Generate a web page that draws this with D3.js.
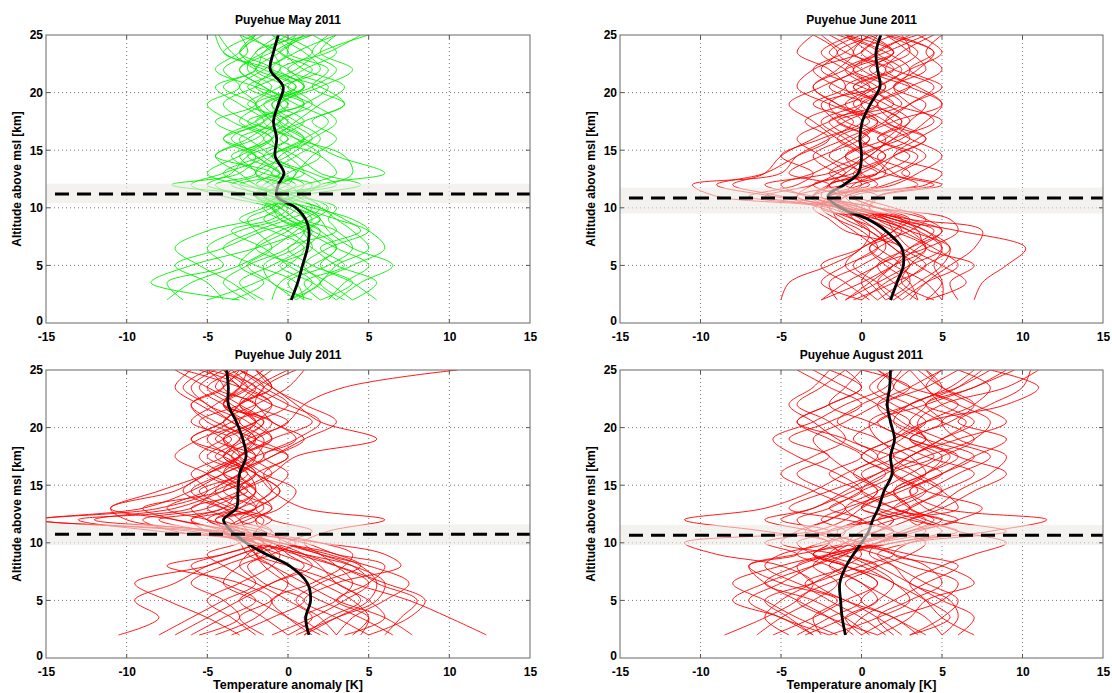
<!doctype html>
<html>
<head>
<meta charset="utf-8">
<script src="https://d3js.org/d3.v7.min.js"></script>
<style>
	body { margin: 0; background: #fff; }
	text { font-family: "Liberation Sans", Arial, sans-serif; font-weight: bold; fill: #000; }
</style>
</head>
<body>
<div id="chart"></div>
<script>
// altitude levels (km) at which every profile is sampled
const ALT = [2, 3.5, 5, 6.5, 8, 9, 10, 11, 12, 13, 14.5, 16, 17.5, 19, 20.5, 22, 23.5, 25];

const TICKS_X = [-15, -10, -5, 0, 5, 10, 15];
const TICKS_Y = [0, 5, 10, 15, 20, 25];
const TITLES = ["Puyehue May 2011", "Puyehue June 2011", "Puyehue July 2011", "Puyehue August 2011"];
const COLORS = ["#00ee00", "#ff0000", "#ff0000", "#ff0000"];

// tropopause height and its spread (km)
const TROPO = [11.2, 10.85, 10.75, 10.65];
const BAND_LO = [10.4, 9.5, 9.8, 9.8];
const BAND_HI = [12.1, 11.75, 11.6, 11.55];

// mean anomaly profiles (K)
const MEAN_MAY = [0.2, 0.6, 0.9, 1.2, 1.3, 1.1, 0.5, -0.7, -0.6, -0.25, -0.8, -0.7, -0.9, -0.6, -0.3, -1.1, -0.9, -0.6];
const MEAN_JUN = [1.8, 2.2, 2.6, 2.5, 1.5, 0.4, -1.3, -2.1, -1.1, -0.2, 0.0, -0.1, 0.05, 0.55, 1.15, 1.0, 0.9, 1.2];
const MEAN_JUL = [1.3, 1.1, 1.4, 1.2, 0.1, -1.35, -2.6, -3.5, -4.0, -3.2, -3.1, -3.0, -2.6, -2.8, -3.2, -3.7, -3.7, -3.8];
const MEAN_AUG = [-1.0, -1.2, -1.3, -1.35, -0.95, -0.5, 0.0, 0.45, 0.7, 1.05, 1.4, 1.9, 1.8, 2.05, 1.8, 1.6, 1.75, 1.8];

// single sounding anomaly profiles (K)
const PROF_MAY = [
	[-7.5, -6, -3, -1, 0.5, 1.5, 0.5, -2, -1.5, -0.5, -2.5, -1, -3, -1.5, 0.5, -2, -3.5, -4.3],
	[-3, -8.5, -6, -2, 1, 2, 1, -0.5, 0.5, -1, 0.5, 2, 0.5, -1, 1.5, 3, 1.5, 2.5],
	[3, 4.5, 6.5, 4, 2.5, 2, 0.5, -1.5, 2, 1, -1.5, 0, -2.5, -4, -2, 0.5, 2, 5],
	[1, 0.5, -2, -4, -2, 0, 1.5, 0.5, -3, -5, -3, -1, 0.5, 2, 3.5, 1, -0.5, -3],
	[0.5, 2, 3, 5, 4, 3, 2, -1, -7.2, -3, -2, -3.5, -1.5, 0, -2, -1, -3, -1.5],
	[4, 5.5, 3, 1.5, 0, -1.5, -0.5, 1, 2, 6, 3, 1, -0.5, 1.5, 0, -2, -0.5, 1],
	[-2, -3.5, -5.5, -7, -5, -2, -0.5, -1.5, -0.5, 0.5, -1, -2.5, -4.5, -2, -3, -1.5, 0, -1],
	[2, 1, 3.5, 2, 4.5, 3.5, 2, 0, -1, -2, 0, 1.5, 3, 1.5, -0.5, 1, 3, 1.5],
	[-5, -2, 0, 1, -1, -3, -1.5, 0.5, 4.5, 2, 0.5, -1.5, 0, -2.5, -1, -2.5, -2, -0.5],
	[0, 1.5, 0, -1.5, -3.5, -1, 0, -0.5, -2, -1, -4.5, -2.5, -1, -0.5, 1, -1, -4, -2],
	[2.5, 3.5, 5, 3, 1, -0.5, -1, -2, 0, 0.5, 1.5, 3, 1.5, 3.5, 1.5, 2.5, 0, 0.5],
	[-1, -0.5, 1.5, 3, 2, 0.5, -0.5, -3, -4.5, -2, -3, -1.5, -3.5, -5, -3, -4, -2.5, -3],
	[4, 2.5, 1, 2.5, 5, 4, 1.5, -1, 1, 3, 2, -0.5, 1, -0.5, 2, 4, 2, 3],
	[-6.5, -7.5, -4, -5, -3, -0.5, 0.5, -1, -3.5, -1.5, -0.5, 1, -1, -2, -4, -2, -1.5, 0],
	[1.5, -1, -1.5, 0.5, 1.5, 0, -1, -4, -6, -4, -1.5, -4, -2, -0.5, -2.5, -0.5, -1, -2.5],
	[3.5, 2, 4, 6, 5, 3, 1, 0, 2.5, 4, 3.5, 0.5, -1.5, 1, 2.5, 0, 1.5, -0.5],
	[-3.5, -1.5, -3, -2, 0, 1, 2, 1, 0, -2, -1, 1, 2.5, 0.5, -1.5, -3, -1, 1],
	[0.5, -1, -2.5, -1, -2, -2.5, -1, 0, 1, -0.5, -2, -4, -1.5, -3, -4.5, -2, -3, -2],
	[2, 4, 1.5, 0, 3, 2.5, 3, 0.5, -2, -3, -4.5, -2, -0.5, 1, 0, 1.5, -0.5, 1.5],
	[-1.5, -3, -1, 1, 2, 0.5, -0.5, -2, -1, 1, 0, -1, 1, 3.5, 2, -1, 0.5, 3],
	[5.5, 4, 2, 3, 1.5, -0.5, -1.5, -0.5, 3, 1.5, -1, 1, -0.5, -2, 0.5, -1.5, -4, -4.5],
	[-4, -5, -7, -4, -1.5, 1, 0, -2, -5, -3.5, -2.5, 0, -2, 0, -1.5, -3, -1.5, 0.5],
	[0, 2, 0.5, -2, -0.5, 1.5, 2.5, 1, -1, 0, 2, 0.5, -1, -2, -0.5, 2, 1, -1],
	[1, 0, 2.5, 4, 3, 1, 0.5, -1.5, -3, -0.5, -2, -3, -0.5, -1.5, 1, 0, -2, 1.5],
	[-2.5, -4, -2.5, 0, 1, 0, -1, 0.5, 1.5, -1.5, -3.5, -1, -2.5, 1, -2, -4.5, -3, -2],
	[3, 1.5, -0.5, 1.5, 1, 2, 1, -0.5, -2.5, -4, -1.5, 1.5, 0, -1, 1, -0.5, 2.5, 4.5]
];

const PROF_JUN = [
	[-5, -4.5, -2, 0, 0.5, -0.5, -2, -9, -10.5, -5, -4, -2, -0.5, -3, -1, -2, -4, -3],
	[-2.5, 0, 2, 4, 3, 1, -1, -3, -2, 0, 2, 4, 1.5, 3, 5, 3, 4.5, 2],
	[2, 3.5, 5, 5.5, 4, 2, 0, -2, 0, 1.5, 0.5, -1, -2.5, 0, 1.5, -0.5, 1, 3],
	[4, 5, 4.5, 5, 3.5, 1.5, -1.5, -4, -1, 2, 3.5, 1, 3, 1.5, -0.5, 2, 0.5, -1],
	[7, 7.5, 9, 10.2, 6, 2, 0, -2.5, -2, -1, 0.5, 2, 4.5, 3, 2, 4, 3, 1.5],
	[0, 1.5, 3, 2, 0.5, -1, -2, -1, 1.5, 3, 0.5, -1.5, -3, -4.5, -2.5, -0.5, -2, 0],
	[3.5, 2, 1, 3, 5, 3, 1, -0.5, 4, 5, 2, 3.5, 5, 2, 0.5, -1, 1.5, 4],
	[-1.5, -2, 0, 1.5, 1, -0.5, -2.5, -5, -8, -6, -5, -3, -1, 1, -1.5, -3, -1, 0.5],
	[5, 4, 2, 0.5, 2, 3, 1, -1, -3, -0.5, 1.5, 0, 2, 5, 3.5, 1, 3, 2.5],
	[1, 2.5, 4, 5.5, 3, 1, -2.5, -2, 0.5, -1.5, -3, -1, 1, -0.5, 1, 3, 5, 3.5],
	[2.5, 1, -0.5, 1, 2.5, 1.5, -1, -7, -4, -3, -5, -2.5, 0, -1.5, -3, -1.5, -0.5, -2],
	[6, 5.5, 7, 4, 3.5, 2.5, 0, 1, 5, 2.5, 4, 2, 0, 2.5, 1, -0.5, 2, 0.5],
	[-2.5, -1, 1, 2.5, -1, -2, -3, -1.5, -2, 1, -1, 1.5, 2.5, 0.5, -2, 0, 2, -1],
	[1.5, 3, 2.5, 1, -0.5, -1.5, -2, -3.5, -5, -3, -1, 0.5, -1.5, -2.5, 1, 2.5, 1, 3.5],
	[3, 4, 5.5, 7, 7.5, 3, 0, -1, -0.5, 1, 2, 4, 2, 1, 3, 5, 4, 5],
	[-1, 0.5, 2, 3.5, 5, 4, 1, -3, -6, -2, 0.5, 1.5, -1, -2, 0, 1.5, -1, -2.5],
	[4.5, 2.5, 3, 4, 2, 0.5, -1.5, -1, 2, 3.5, 5, 3, 1, -1, 0.5, -1, -2.5, -0.5],
	[0.5, -1, -2.5, 0, 1.5, 0.5, -1, -5.5, -9, -6, -4, -2, -3.5, -1, 1.5, 0, -1.5, 1],
	[2, 1, 2, 3, 4.5, 2.5, 0.5, 1, -1, 0, -2, -0.5, 1.5, 3, 4.5, 2, 0, 2],
	[5, 5, 3.5, 2, 0.5, -0.5, -1, -3, -1, -2, 0, 2, 3, 4, 2, 3.5, 4.5, 1.5],
	[-0.5, 2, 4, 2.5, 1, 0, -1.5, -4, -3, -1, -2.5, -4, -2, 0, -1, 1, -0.5, 0.5],
	[3.5, 3, 1.5, 0.5, 3, 4, 2, -0.5, -2, 1, 3, 1, 2.5, 1, 3, 1.5, 2.5, 4.5],
	[1, 0, 1, 4, 6, 5.5, 1, -2, 1, 0, -1, 0.5, -1.5, 2, 0, -2.5, -1.5, -3],
	[-1, 1, 3, 5, 4, 2, -1, -6, -3, -1.5, 0, -1.5, 0.5, -2, -4, -3, 0, 1],
	[4, 6.5, 5, 3, 2, 1.5, -0.5, -2, 3.5, 2, 1, 3, 1.5, 0, 2, 3, 1.5, -1],
	[0, -2.5, -1, 1, 0, -1.5, -2.5, -1.5, 0, -0.5, 1.5, -0.5, -2, 1, -0.5, 2, 3.5, 1.5],
	[2.5, 4, 6, 4.5, 2.5, 1, 0.5, 1, 4.5, 1.5, 0, 2.5, 4, 5, 3, 0.5, 2, 0],
	[1.5, 0.5, -1, 0, 2, 2.5, -0.5, -3, -2, -4.5, -2.5, 0, 1, -1.5, -3, -1, 1, -1.5]
];

const PROF_JUL = [
	[-10.5, -8, -9.5, -7, -5, -3, -1, -5, -15.5, -9, -6, -4, -2, -4.5, -3, -5, -6, -4.5],
	[-6, -4, -2, -4, -6, -4, -2, -7, -9, -5, -3, -5, -7, -5.5, -3, -4, -2.5, -4],
	[5, 7.5, 8.5, 6, 3, 0.5, -2, -4, -3, -1.5, -2.5, -4, -3, -1, -2, -3.5, -5, -3],
	[12.3, 10, 7.5, 4, 1.5, -0.5, -2.5, -5, -6, -4, -2, -3, -1.5, -2.5, -4, -2, 0, 1],
	[1, 3, 5, 5.5, 4.5, 2.5, -0.5, -3, -4, -2, -0.5, -2, -3.5, -2, 0, 1, 3.5, 10.5],
	[-3, -5, -7.5, -9.5, -5, -3, -1.5, -3.5, -7, -11, -8, -5, -3, -4, -5.5, -3, -1.5, -3],
	[4, 5, 4, 2, 0, -1, -2, -4.5, -12, -7, -4, -2, -3, -1, -2.5, -4, -3, -1.5],
	[7.7, 6, 3, 1, -1, -2.5, -3, -4, -2.5, -1, -3, -2, 0, -2, -4.5, -6, -4, -5],
	[-1, 1.5, 3.5, 5, 3, 1, -1.5, -2, -1, -3, -4.5, -3, -1, 1, -1, -2, -4, -2.5],
	[2, 0, -2, -4, -3, -1.5, -2, -3, -3.5, -5, -3, -1, -2.5, -4, -2, 0, -1.5, -3],
	[0.5, 3, 5.5, 6, 4, 1, -2, -6, -15.5, -8, -5, -6, -4, -3, -1.5, -3, -5, -7],
	[3, 2, 0.5, 2, 4.5, 3, -0.5, -3.5, -5, -6, -2.5, -4, -2, 0.5, -1, -3, -2, 0],
	[-4.5, -2, -1, -3, -7.5, -4, -2, -4, -2, -3.5, -5.5, -3, -5, -3.5, -6, -4.5, -3, -5.5],
	[6, 7, 8, 5.5, 4, 2, 0, 1.5, -1, -2, -1, 0, -1.5, 0.5, 2, 0, -2, -3.5],
	[-7, -5, -3, -1, 1, 0, -1, -8, -13, -6, -4.5, -2.5, -4, -2, -3.5, -5, -6.5, -5],
	[1.5, 0, -1, 1.5, 3.5, 4, 2, -2, -4.5, -3, -1, -1.5, 0, -2.5, -1.5, -4, -2.5, -1],
	[-2, -3.5, -5, -3, -1, -0.5, -1.5, -2.5, -3, -4, -6, -4, -2, -1.5, -3, -2, -4.5, -3.5],
	[4.5, 5, 3, 5, 6, 3, 1, -3, -7, -9, -4, -2, -3.5, -5, -3.5, -1, -3, -6.5],
	[-5.5, -3, -4, -6, -4, -2, -0.5, -1, -3, -2, -0.5, -2, -4, -6, -4, -3, -1, -2],
	[3, 4, 6, 7.5, 5, 2, 0, -1.5, -4, -2, -3, -5, -3, -1, 1.5, -1, -3, -4],
	[-3.5, -1, 1, -1.5, -2.5, -1, 0.5, -1.5, -2, -1, -2, -3, -1, 1, 3, 1, -1, -2],
	[6.5, 4.5, 2, 0, -1.5, -2, -2.5, -4, -6, -3, -2, -2.5, -4.5, -3, -5, -6, -4, -3],
	[0, -1.5, -3, -1, 1.5, 0.5, -1, -2.5, -5, -7.5, -5, -3, -2, -3, -2, -4, -5.5, -4],
	[2.5, 1, 3, 4, 3, 2, 1, 2.5, 6, 1, -1, -2, -4, -2.5, 0, -2, -1.5, 0.5],
	[-1.5, -3, -1, 0, -1, -2, -1, -3.5, -4.5, -2, -4, -3, -3.5, -6, -4, -3, -2, -5],
	[5, 3, 1, 3, 7, 6, 2, -4, -10, -11, -7, -5, -3, -2, -1, -4, -3, -2.5],
	[1, 2.5, 4.5, 3, 0, -2, -2.5, -1, -2, -0.5, 0.5, -1.5, -3, -4, -2, -1, -2.5, -4],
	[-8, -6, -4, -2, -3, -2.5, -1.5, -3, -5, -3.5, -2, -4, -5.5, -4, -2, -3, -1, -2],
	[3.5, 6, 5, 3, 2, 1, -1, -5, -8, -4, -3, -1, 0.5, 5.5, 2, 0.5, -1, -3],
	[0, 1.5, 0, -2, -4, -5, -3, -2, -1.5, -4, -6.5, -5, -3, -2, -3.5, -5.5, -7, -6]
];

const PROF_AUG = [
	[-8.5, -6, -4, -3, -5, -9, -11, -3, -1, 0, 2, 4, 3, 1, 0.5, 3, 5, 4],
	[-2, -5, -7, -5, -3, -1.5, 1, 3, 5, 2, 4, 6, 8, 5, 3, 4, 2, 3],
	[0.5, -1, -3, -6, -4, -2, -0.5, 2, -1, -4.5, -2, 1, 3, 5, 6.5, 4, 7, 9],
	[3, 5, 6, 4, 2, 0.5, 1, 3, 4.5, 3, 5, 3.5, 2, 4, 2, 1, 3, 5],
	[-5.5, -3, -1, 1, -1, -3, -2, -6, -11, -6, -3, -1, 1, -1, -4, -2, 0, -1],
	[1, 3, 4, 7, 5, 2, 3, 8, 11.5, 5, 3, 5, 7, 9, 6, 8, 10, 10.5],
	[-3, -4.5, -6, -3, 0, 2, -1, -3, -4, -2, 0, 2, 0.5, -1.5, -3, -4.5, -3, -2],
	[5, 4, 2, 0, -2, -4, -2.5, 1, 3, 5, 7, 9, 6, 4, 3.5, 5, 9, 11],
	[-1, 0, 2, 4, 6, 3, 0, -2, 1, 3, 1.5, -0.5, -2, -3, -1, 1, 3, 0],
	[2.5, 1, -1, -4, -6, -5, -2, -1, -2.5, -1, 2, 4, 5, 3, 5.5, 7, 5, 3.5],
	[-4, -2, 0, -1, 1, -1.5, -5, -4, -2, -0.5, 1, 0, 2, 1, -1.5, 0, 2, 1],
	[7, 5, 4, 3, 5, 7, 9, 6, 4, 2, 0, 1.5, 4, 7, 8, 6, 4, 5],
	[-2.5, -3, -1.5, -5, -7, -4, 0, 3, 6, 4, 3, 5, 2, -0.5, 1, 3, 5.5, 7],
	[0, 2, 5, 6, 3, 1, -1, -1.5, 0, 2, 4, 2, 4.5, 3, 5, 4, 6, 7.5],
	[-6.5, -5, -3, -1.5, -3, -2, 2, 5, 3.5, 1, -2, -4, -2, -4.5, -2, 0, -2, -4],
	[4, 2, 0, 1, -1, -3, -1, 1, 2, 0, 2.5, 5, 7, 4, 2, 3, 6, 8],
	[-1.5, -4, -6, -8, -5, -2, 1, 4, 3, 6, 5, 3, 1, 2.5, 4, 6, 3, 1],
	[1.5, 0, -2, -3.5, -1, -3, -4, -2, -5, -3, -0.5, 1.5, 0, 2, 4, 2, 0.5, 2],
	[3, 5.5, 4, 2, 0, -2, -1, 0, 2, 4.5, 6, 8, 9, 6, 5, 7, 8, 6],
	[-3.5, -1, 1, 2, 0.5, -1, -2, -1, 0, -2, 0, -1.5, -4, -5.5, -3, -1, 1.5, 2.5],
	[6, 7, 5, 3, 1, -0.5, 2, 6, 3, 1, 3.5, 2, 0, 2, 4, 9, 11, 8],
	[-0.5, -2, -4, -6, -7, -4, -6, -2, 1, 3, 2, 4, 5.5, 3, 0.5, -2, -1, 0],
	[2, 1, 3, 5, 4, 2, 0, -3, -6, -3, -1, 1, 3, 5, 7, 5, 4, 3],
	[-4.5, -6, -5, -3, -1, 0, -0.5, 1, 2, 0, 1, -0.5, 1.5, 4, 2.5, 1, -1, -3],
	[0, -1, 1, 0, -2, -1, 0, 2, 1, 3, 5, 7, 4, 2, 3, 1.5, 4, 6],
	[3.5, 2, -1, -3, -4, -1.5, 1, 3.5, 6, 7.5, 4, 2, 3, 6, 9, 7, 5, 4],
	[-2, 1, 3, 2, -1, -3, -2, -3.5, -2, -1, -3, -5, -3, -1, -2, -4, -2.5, -1],
	[1, -2, -4, -2, 1, 3, 4, 2, 0, -1, 1, 3, 5, 7, 5, 3, 1, 2],
	[-3, -5, -8, -6, -3, -1, 1, 2.5, 4, 2, 0, -2, 0, -2, -4, -2, 0, -2],
	[5, 6, 5.5, 3, 2, 1, 3, 9, 5, 3, 2, 4, 6, 3, 1, 4, 7, 9.5]
];

const MEANS = [MEAN_MAY, MEAN_JUN, MEAN_JUL, MEAN_AUG];
const PROFILES = [PROF_MAY, PROF_JUN, PROF_JUL, PROF_AUG];

(function () {
	"use strict";

	const W = 1112, H = 693;
	// plot boxes of the four panels
	const boxes = [
		{ x0: 46, x1: 530, y0: 35, y1: 323 },
		{ x0: 620, x1: 1103, y0: 35, y1: 323 },
		{ x0: 46, x1: 530, y0: 370, y1: 658 },
		{ x0: 620, x1: 1103, y0: 370, y1: 658 }
	];

	const svg = d3.select("#chart").append("svg")
		.attr("width", W)
		.attr("height", H);

	boxes.forEach(function (b, i) {
		const x = d3.scaleLinear().domain([-15, 15]).range([b.x0, b.x1]);
		const y = d3.scaleLinear().domain([0, 25]).range([b.y1, b.y0]);
		const w = b.x1 - b.x0, h = b.y1 - b.y0;

		const g = svg.append("g");

		svg.append("clipPath").attr("id", "clip" + i)
			.append("rect").attr("x", b.x0).attr("y", b.y0).attr("width", w).attr("height", h);

		// dotted grid
		g.append("g").selectAll("line").data(TICKS_X.slice(1, -1)).join("line")
			.attr("x1", d => x(d)).attr("x2", d => x(d))
			.attr("y1", b.y0).attr("y2", b.y1)
			.attr("stroke", "#777").attr("stroke-width", 1).attr("stroke-dasharray", "1,3");
		g.append("g").selectAll("line").data(TICKS_Y.slice(1, -1)).join("line")
			.attr("x1", b.x0).attr("x2", b.x1)
			.attr("y1", d => y(d)).attr("y2", d => y(d))
			.attr("stroke", "#777").attr("stroke-width", 1).attr("stroke-dasharray", "1,3");

		const line = d3.line()
			.x(d => x(d[0]))
			.y(d => y(d[1]))
			.curve(d3.curveCatmullRom.alpha(0.5));

		const plot = g.append("g").attr("clip-path", "url(#clip" + i + ")");

		// single soundings
		plot.selectAll("path.prof").data(PROFILES[i]).join("path")
			.attr("class", "prof")
			.attr("d", p => line(p.map((v, k) => [v, ALT[k]])))
			.attr("fill", "none")
			.attr("stroke", COLORS[i])
			.attr("stroke-width", 0.9);

		// mean profile
		plot.append("path")
			.attr("d", line(MEANS[i].map((v, k) => [v, ALT[k]])))
			.attr("fill", "none")
			.attr("stroke", "#000")
			.attr("stroke-width", 2.8);

		// tropopause spread (semi transparent, on top like the original)
		plot.append("rect")
			.attr("x", b.x0).attr("width", w)
			.attr("y", y(BAND_HI[i])).attr("height", y(BAND_LO[i]) - y(BAND_HI[i]))
			.attr("fill", "#ebeae4").attr("opacity", 0.6);

		// mean tropopause
		plot.append("line")
			.attr("x1", b.x0 + 9).attr("x2", b.x1)
			.attr("y1", y(TROPO[i])).attr("y2", y(TROPO[i]))
			.attr("stroke", "#000").attr("stroke-width", 3)
			.attr("stroke-dasharray", "14,8");

		// small inner tick marks on all sides
		const tk = 4;
		TICKS_X.slice(1, -1).forEach(function (t) {
			g.append("line").attr("x1", x(t)).attr("x2", x(t)).attr("y1", b.y1).attr("y2", b.y1 - tk).attr("stroke", "#555");
			g.append("line").attr("x1", x(t)).attr("x2", x(t)).attr("y1", b.y0).attr("y2", b.y0 + tk).attr("stroke", "#555");
		});
		TICKS_Y.slice(1, -1).forEach(function (t) {
			g.append("line").attr("x1", b.x0).attr("x2", b.x0 + tk).attr("y1", y(t)).attr("y2", y(t)).attr("stroke", "#555");
			g.append("line").attr("x1", b.x1).attr("x2", b.x1 - tk).attr("y1", y(t)).attr("y2", y(t)).attr("stroke", "#555");
		});

		// box
		g.append("rect")
			.attr("x", b.x0).attr("y", b.y0).attr("width", w).attr("height", h)
			.attr("fill", "none").attr("stroke", "#666").attr("stroke-width", 1);

		// axes labels (plain hyphen minus like the original)
		const ax = g.append("g").attr("transform", "translate(0," + b.y1 + ")")
			.call(d3.axisBottom(x).tickValues(TICKS_X).tickFormat(d => String(d)).tickSize(0).tickPadding(9));
		const ay = g.append("g").attr("transform", "translate(" + b.x0 + ",0)")
			.call(d3.axisLeft(y).tickValues(TICKS_Y).tickFormat(d => String(d)).tickSize(0).tickPadding(3));
		[ax, ay].forEach(function (a) {
			a.select(".domain").remove();
			a.selectAll("text")
				.style("font-size", "12px")
				.style("font-family", "'Liberation Sans', Arial, sans-serif")
				.style("font-weight", "bold")
				.style("fill", "#000");
		});
		// lift the y "0" a touch so it clears the x "-15" below it
		ay.selectAll("text").filter(d => d === 0).attr("dy", "0.1em");

		// title
		g.append("text")
			.attr("x", (b.x0 + b.x1) / 2).attr("y", b.y0 - 11)
			.attr("text-anchor", "middle").style("font-size", "12px")
			.text(TITLES[i]);

		// y label
		g.append("text")
			.attr("transform", "translate(" + (b.x0 - 29) + "," + ((b.y0 + b.y1) / 2) + ") rotate(-90)")
			.attr("text-anchor", "middle").attr("dy", "0.35em").style("font-size", "12px")
			.text("Altitude above msl [km]");

		// x label on the lower row only
		if (i >= 2) {
			g.append("text")
				.attr("x", (b.x0 + b.x1) / 2).attr("y", 689)
				.attr("text-anchor", "middle").style("font-size", "12.5px")
				.text("Temperature anomaly [K]");
		}
	});
})();
</script>
</body>
</html>
